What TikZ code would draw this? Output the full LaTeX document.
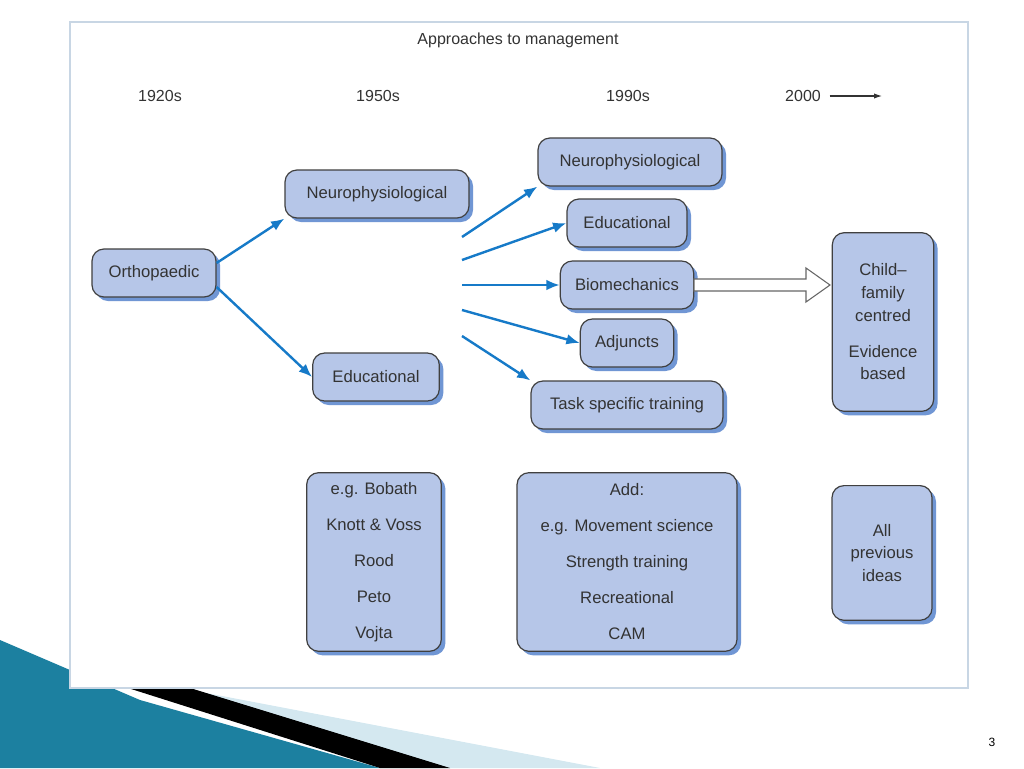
\documentclass[tikz,border=0pt]{standalone}
\usepackage{fontspec}
\setmainfont{Liberation Sans}
\usetikzlibrary{shadows,arrows.meta}
\definecolor{boxfill}{RGB}{182,198,232}
\definecolor{shad}{RGB}{112,150,212}
\definecolor{arrc}{RGB}{22,122,200}
\definecolor{teal1}{RGB}{28,128,160}
\definecolor{pale}{RGB}{212,232,240}
\definecolor{frame}{RGB}{200,214,228}
\begin{document}
\begin{tikzpicture}[x=0.75pt,y=-0.75pt,
  box/.style={draw=black!75,line width=0.9pt,fill=boxfill,rounded corners=9pt,
    drop shadow={shadow xshift=3pt,shadow yshift=-3pt,fill=shad,opacity=1},
    minimum height=36pt,inner sep=2pt,font=\fontsize{12.5}{17}\selectfont\color{black!80},align=center},
  lbl/.style={font=\fontsize{12}{14}\selectfont\color{black!80}},
  arr/.style={-{Latex[length=10pt,width=8pt]},draw=arrc,line width=1.8pt}]
\useasboundingbox (0,0) rectangle (1024,768);
% bottom-left decoration
\fill[pale] (180,688) -- (600,768) -- (380,768) -- (140,688) -- cycle;
\fill[teal1] (0,640) -- (140,700) -- (380,768) -- (0,768) -- cycle;
\fill[black] (128,688) -- (190,688) -- (450,768) -- (380,768) -- cycle;
% panel
\draw[fill=white,draw=frame,line width=1.5pt] (70,22) rectangle (968,688);
\node[lbl] (title) at (518,40) {Approaches to management};
\node[lbl] (y1) at (160,96) {1920s};
\node[lbl] (y2) at (378,96) {1950s};
\node[lbl] (y3) at (628,96) {1990s};
\node[lbl] (y4) at (803,96) {2000};
\coordinate (ye) at (882,96);
\draw[-{Latex[length=6pt,width=4pt]},line width=0.8pt,black!80] (y4.east) ++(4,0) -- (ye);
\node[box,minimum width=93pt] (orth) at (154,273) {Orthopaedic};
\node[box,minimum width=138pt] (n1) at (377,194) {Neurophysiological};
\node[box,minimum width=95pt] (e1) at (376,377) {Educational};
\node[box,minimum width=138pt] (n2) at (630,162) {Neurophysiological};
\node[box,minimum width=90pt] (e2) at (627,223) {Educational};
\node[box,minimum width=100pt] (bio) at (627,285) {Biomechanics};
\node[box,minimum width=70pt] (adj) at (627,343) {Adjuncts};
\node[box,minimum width=144pt] (task) at (627,405) {Task specific training};
\node[box,minimum width=76pt,minimum height=134pt] (cf) at (883,322) {Child–\\family\\centred\\[10pt]Evidence\\based};
\node[box,minimum width=101pt,minimum height=134pt,font=\fontsize{12.5}{27}\selectfont\color{black!80}] (bob) at (374,562) {e.g. Bobath\\Knott \& Voss\\Rood\\Peto\\Vojta};
\node[box,minimum width=165pt,minimum height=134pt,font=\fontsize{12.5}{27}\selectfont\color{black!80}] (add) at (627,562) {Add:\\e.g. Movement science\\Strength training\\Recreational\\CAM};
\node[box,minimum width=75pt,minimum height=101pt,anchor=north] (all) at (882,485) {All\\previous\\ideas};
\draw[arr] (orth.east) ++(0,-10) -- (n1.south west);
\draw[arr] (orth.east) ++(0,14) -- (e1.west);
\coordinate (s1) at (462,237);
\coordinate (s2) at (462,260);
\coordinate (s3) at (462,285);
\coordinate (s4) at (462,310);
\coordinate (s5) at (462,336);
\draw[arr] (s1) -- (n2.south west);
\draw[arr] (s2) -- (e2.west);
\draw[arr] (s3) -- (bio.west);
\draw[arr] (s4) -- (adj.west);
\draw[arr] (s5) -- (task.north west);
\draw[draw=black!60,fill=white,line width=0.8pt] (694,279) -- (806,279) -- (806,268) -- (830,285) -- (806,302) -- (806,291) -- (694,291) -- cycle;
\node[font=\fontsize{9}{10}\selectfont] (pg) at (992,742) {3};
\end{tikzpicture}
\end{document}
